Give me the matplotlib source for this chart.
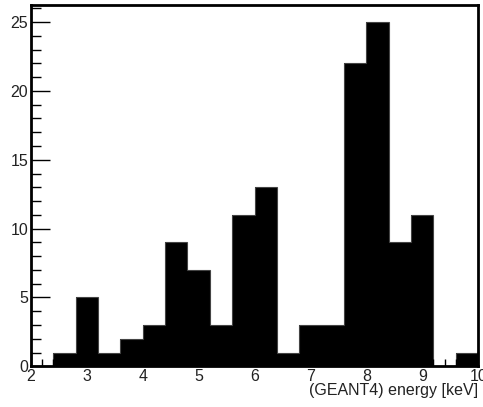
import numpy as np
import matplotlib
matplotlib.use("Agg")
import matplotlib.pyplot as plt
from matplotlib.ticker import MultipleLocator

# bin edges (keV) and counts
edges = [2.0, 2.4, 2.8, 3.2, 3.6, 4.0, 4.4, 4.8, 5.2, 5.6, 6.0,
         6.4, 6.8, 7.2, 7.6, 8.0, 8.4, 8.8, 9.2, 9.6, 10.0]
counts = [0, 1, 5, 1, 2, 3, 9, 7, 3, 11, 13,
          1, 3, 3, 22, 25, 9, 11, 0, 1]

plt.rcParams['font.family'] = ['Liberation Sans', 'DejaVu Sans']

fig = plt.figure(figsize=(4.83, 4.07), dpi=100)
ax = fig.add_axes([0.064, 0.100, 0.926, 0.888])

ax.stairs(counts, edges, fill=True, color='black', linewidth=0)
ax.stairs(counts, edges, fill=False, color='#444444', linewidth=0.8)

ax.set_xlim(2, 10)
ax.set_ylim(0, 26.25)

ax.xaxis.set_major_locator(MultipleLocator(1))
ax.xaxis.set_minor_locator(MultipleLocator(0.2))
ax.yaxis.set_major_locator(MultipleLocator(5))
ax.yaxis.set_minor_locator(MultipleLocator(1))

ax.tick_params(which='both', direction='in', top=False, right=False,
               colors='black', labelsize=11.5, labelcolor='#222222')
ax.tick_params(axis='y', which='major', length=14, width=1, pad=2)
ax.tick_params(axis='y', which='minor', length=7, width=1)
ax.tick_params(axis='x', which='major', length=11, width=1, pad=2)
ax.tick_params(axis='x', which='minor', length=5, width=1)

for s in ax.spines.values():
    s.set_linewidth(2)
    s.set_color('black')

ax.set_xlabel('(GEANT4) energy [keV]', fontsize=11.5, color='#222222')
ax.xaxis.set_label_coords(1.0, -0.045)
ax.xaxis.label.set_horizontalalignment('right')

fig.savefig('out.png', dpi=100)
